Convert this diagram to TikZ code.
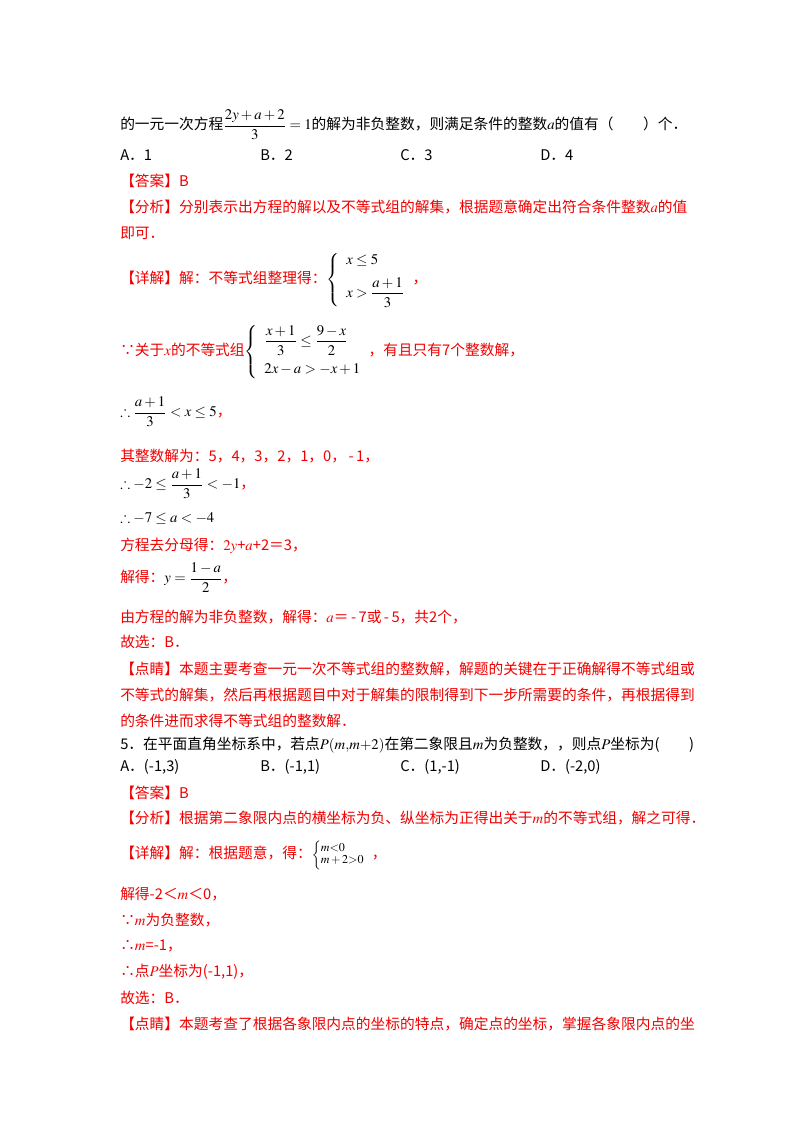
\documentclass[tikz,border=0pt]{standalone}
\usepackage{amsmath,amssymb}
\usepackage{mathptmx}
\usepackage{fontspec}
\newfontfamily\cjk{Noto Sans CJK SC}
\definecolor{hong}{RGB}{240,0,0}
\begin{document}
\begin{tikzpicture}[x=0.02625cm, y=-0.02625cm,
    txt/.style={anchor=west, inner sep=0pt, font=\cjk\fontsize{11}{13}\selectfont},
    hei/.style={txt, text=black},
    hong/.style={txt, text=hong}]
    \useasboundingbox (0,0) rectangle (800,1132);

    \node[hei] (q1) at (120,125) {的一元一次方程$\dfrac{2y+a+2}{3}=1$的解为非负整数，则满足条件的整数$a$的值有（\quad\quad ）个．};
    \node[hei] (qa) at (120,155) {A．1};
    \node[hei] (qb) at (260,155) {B．2};
    \node[hei] (qc) at (400,155) {C．3};
    \node[hei] (qd) at (540,155) {D．4};

    \node[hong] (da1) at (120,181) {【答案】B};
    \node[hong] (fx1) at (120,207) {【分析】分别表示出方程的解以及不等式组的解集，根据题意确定出符合条件整数$a$的值};
    \node[hong] (fx1b) at (120,233) {即可．};
    \node[hong] (xj1) at (120,280) {【详解】解：不等式组整理得：{\color{black}$\left\{\begin{array}{l} x\le 5\\[6pt] x>\dfrac{a+1}{3}\end{array}\right.$}，};
    \node[hong] (s1) at (120,352) {∵关于$x$的不等式组{\color{black}$\left\{\begin{array}{l} \dfrac{x+1}{3}\le\dfrac{9-x}{2}\\[8pt] 2x-a>-x+1\end{array}\right.$}，有且只有7个整数解，};
    \node[hong] (s2) at (120,412) {{\color{black}$\therefore\dfrac{a+1}{3}<x\le 5$}，};
    \node[hong] (s3) at (120,456) {其整数解为：5，4，3，2，1，0，\,-\,1，};
    \node[hong] (s4) at (120,484) {{\color{black}$\therefore -2\le\dfrac{a+1}{3}<-1$}，};
    \node[hei] (s5) at (120,518) {$\therefore -7\le a<-4$};
    \node[hong] (s6) at (120,546) {方程去分母得：$2y$+$a$+2＝3，};
    \node[hong] (s7) at (120,578) {解得：{\color{black}$y=\dfrac{1-a}{2}$}，};
    \node[hong] (s8) at (120,617) {由方程的解为非负整数，解得：$a$＝\,-\,7或\,-\,5，共2个，};
    \node[hong] (s9) at (120,642) {故选：B．};
    \node[hong] (dj1) at (120,669) {【点睛】本题主要考查一元一次不等式组的整数解，解题的关键在于正确解得不等式组或};
    \node[hong] (dj1b) at (120,695) {不等式的解集，然后再根据题目中对于解集的限制得到下一步所需要的条件，再根据得到};
    \node[hong] (dj1c) at (120,721) {的条件进而求得不等式组的整数解．};

    \node[hei] (q5) at (120,745) {5．在平面直角坐标系中，若点$P(m{,}m{+}2)$在第二象限且$m$为负整数，，则点$P$坐标为(\quad\quad)};
    \node[hei] (pa) at (120,767) {A．(-1,3)};
    \node[hei] (pb) at (260,767) {B．(-1,1)};
    \node[hei] (pc) at (400,767) {C．(1,-1)};
    \node[hei] (pd) at (540,767) {D．(-2,0)};
    \node[hong] (da2) at (120,793) {【答案】B};
    \node[hong] (fx2) at (120,818) {【分析】根据第二象限内点的横坐标为负、纵坐标为正得出关于$m$的不等式组，解之可得．};
    \node[hong] (xj2) at (120,855) {【详解】解：根据题意，得：{\color{black}\fontsize{9}{10}\selectfont$\left\{\renewcommand{\arraystretch}{0.9}\begin{array}{@{}l} m{<}0\\ m+2{>}0\end{array}\right.$}，};
    \node[hong] (t1) at (120,894) {解得-2＜$m$＜0，};
    \node[hong] (t2) at (120,920) {∵$m$为负整数，};
    \node[hong] (t3) at (120,946) {∴$m$=-1，};
    \node[hong] (t4) at (120,972) {∴点$P$坐标为(-1,1)，};
    \node[hong] (t5) at (120,998) {故选：B．};
    \node[hong] (dj2) at (120,1024) {【点睛】本题考查了根据各象限内点的坐标的特点，确定点的坐标，掌握各象限内点的坐};
\end{tikzpicture}
\end{document}
